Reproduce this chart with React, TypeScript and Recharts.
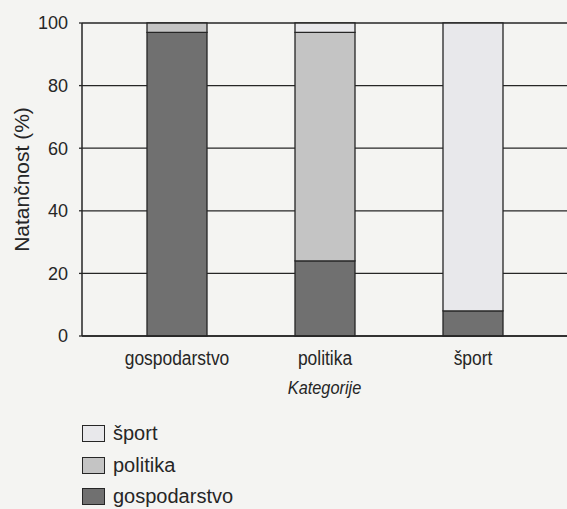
import React from 'react';
import { BarChart, Bar, XAxis, YAxis, CartesianGrid, Legend } from 'recharts';

const categories = ['gospodarstvo', 'politika', 'šport'];
const gospodarstvo = [97, 24, 8];
const politika = [3, 73, 0];
const sport = [0, 3, 92];
const yTicks = [0, 20, 40, 60, 80, 100];

const seriesKeys = ['gospodarstvo', 'politika', 'sport'];
const seriesNames = ['gospodarstvo', 'politika', 'šport'];
const seriesColors = ['#707070', '#c4c4c4', '#e8e8eb'];

const data = categories.map((c, i) => ({
  category: c,
  gospodarstvo: gospodarstvo[i],
  politika: politika[i],
  sport: sport[i],
}));

const FONT = "'Liberation Sans', Arial, Helvetica, sans-serif";
const INK = '#262626';

const LegendContent = () => {
  const order = [2, 1, 0];
  return (
    <div style={{ fontFamily: FONT, color: INK, fontSize: 20 }}>
      {order.map((i) => (
        <div key={seriesKeys[i]} style={{ display: 'flex', alignItems: 'center', height: 31.5 }}>
          <span
            style={{
              display: 'inline-block',
              width: 21,
              height: 15,
              background: seriesColors[i],
              border: `1.5px solid ${INK}`,
              marginRight: 8,
            }}
          />
          <span>{seriesNames[i]}</span>
        </div>
      ))}
    </div>
  );
};

const XTick = (props: any) => {
  const { x, y, payload } = props;
  return (
    <g transform={`translate(${x},${y})`}>
      <text
        transform="scale(0.83,1)"
        textAnchor="middle"
        dy="0.71em"
        fill={INK}
        fontSize={21}
        fontFamily={FONT}
      >
        {payload.value}
      </text>
    </g>
  );
};

const XLabel = (props: any) => {
  const { viewBox } = props;
  const cx = viewBox.x + viewBox.width / 2;
  const by = viewBox.y + viewBox.height;
  return (
    <g transform={`translate(${cx},${by})`}>
      <text
        transform="scale(0.86,1)"
        textAnchor="middle"
        dy="0"
        fill={INK}
        fontSize={19}
        fontFamily={FONT}
        fontStyle="italic"
      >
        Kategorije
      </text>
    </g>
  );
};

export default function App() {
  return (
    <div style={{ position: 'absolute', left: 0, top: 0, width: 567, height: 509, background: '#f4f4f2' }}>
      <BarChart
        width={567}
        height={509}
        data={data}
        margin={{ top: 23, right: 0, bottom: 115, left: 0 }}
        barCategoryGap={0}
      >
        <CartesianGrid horizontal vertical={false} stroke={INK} strokeWidth={1.3} />
        <XAxis
          dataKey="category"
          padding={{ left: 21, right: 20 }}
          tickLine={false}
          axisLine={{ stroke: INK, strokeWidth: 1.5 }}
          tick={<XTick />}
          tickMargin={8}
          height={58}
          label={<XLabel />}
        />
        <YAxis
          width={82}
          domain={[0, 100]}
          ticks={yTicks}
          interval={0}
          tickSize={3}
          tickMargin={11}
          tickLine={{ stroke: INK, strokeWidth: 1.3 }}
          axisLine={{ stroke: INK, strokeWidth: 1.5 }}
          tick={{ fill: INK, fontSize: 18, fontFamily: FONT }}
          label={{
            value: 'Natančnost (%)',
            angle: -90,
            position: 'insideLeft',
            offset: 22,
            style: { fill: INK, fontSize: 21, fontFamily: FONT, textAnchor: 'middle' },
          }}
        />
        <Legend
          layout="vertical"
          align="center"
          verticalAlign="middle"
          wrapperStyle={{ left: 82, top: 418, width: 200 }}
          content={<LegendContent />}
        />
        {seriesKeys.map((k, i) => (
          <Bar
            key={k}
            dataKey={k}
            name={seriesNames[i]}
            stackId="a"
            fill={seriesColors[i]}
            stroke={INK}
            strokeWidth={1.3}
            barSize={60}
            isAnimationActive={false}
          />
        ))}
      </BarChart>
    </div>
  );
}
